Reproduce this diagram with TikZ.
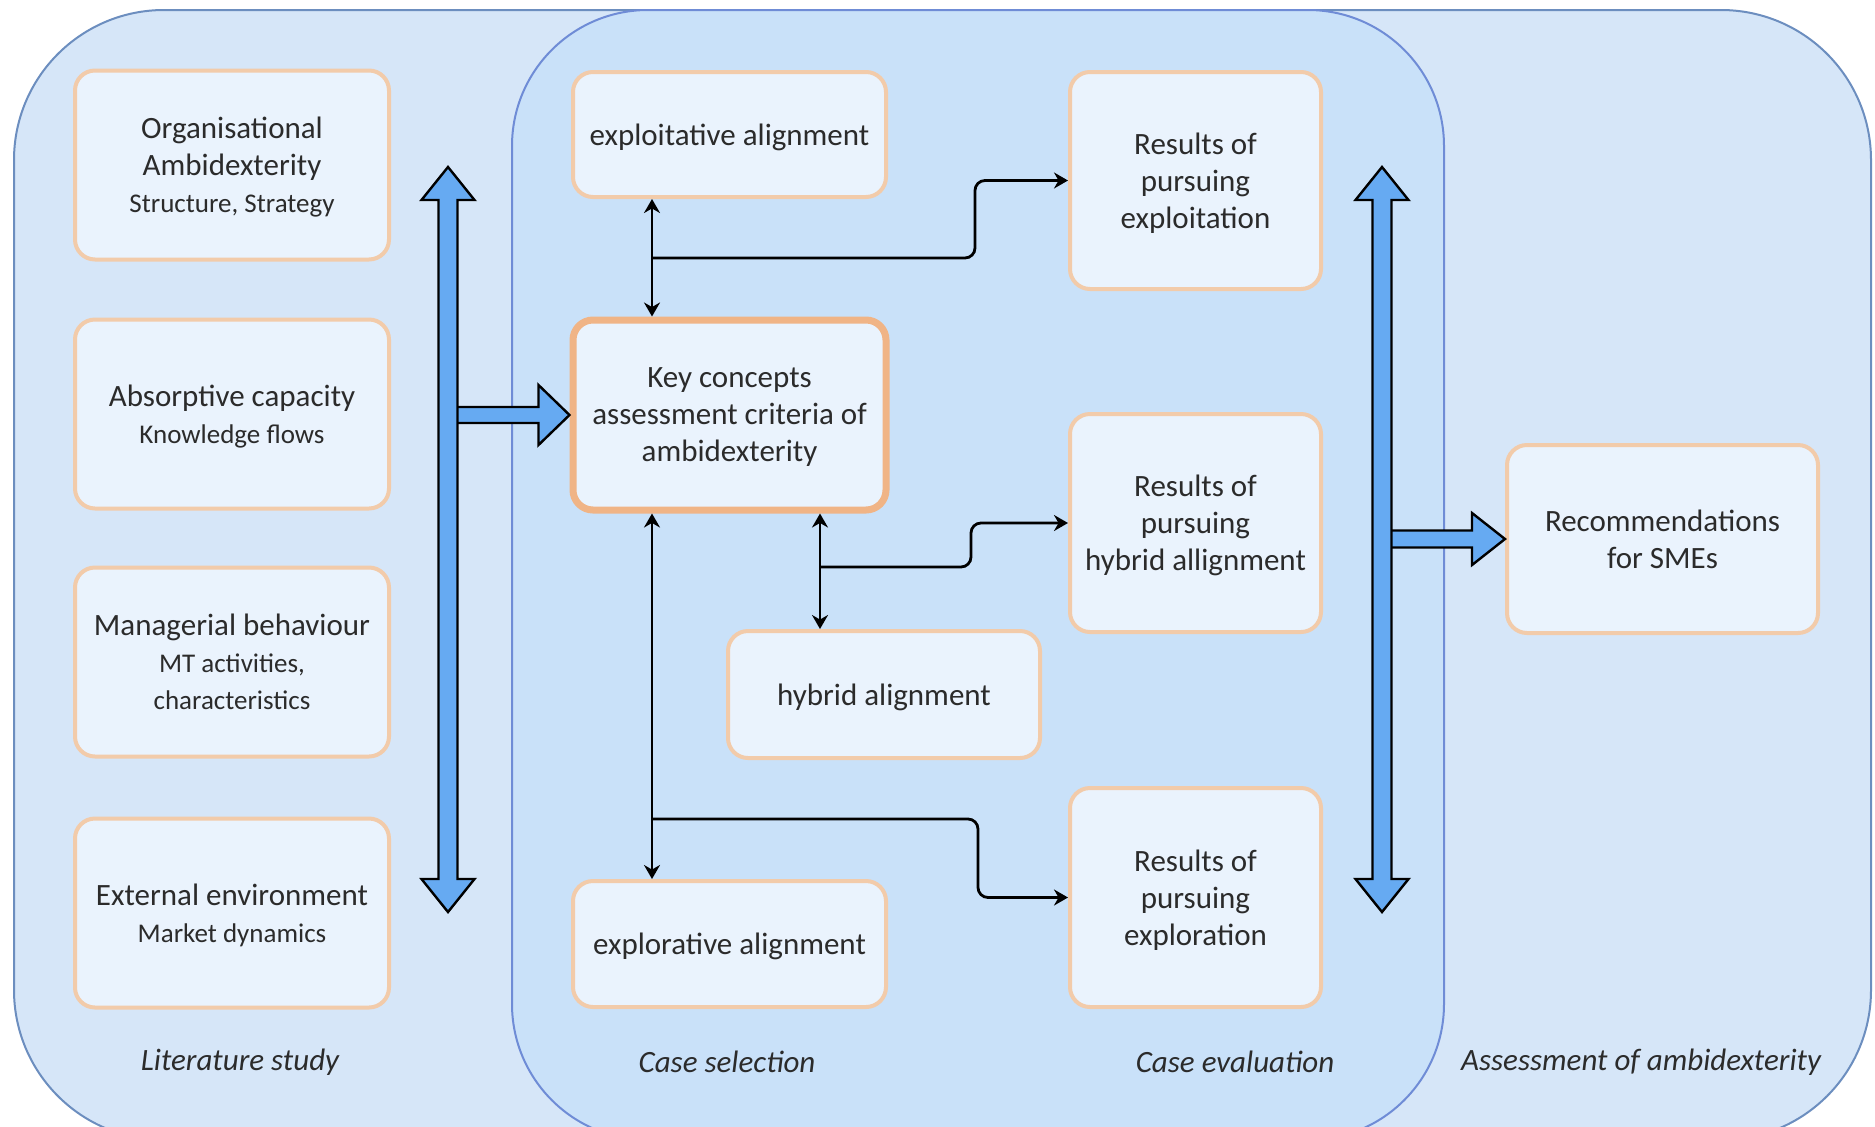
\documentclass[tikz,border=0pt]{standalone}
\usepackage{fontspec}
\setmainfont{Carlito}
\usetikzlibrary{calc,positioning,arrows.meta}

\definecolor{outerfill}{HTML}{D6E6F8}
\definecolor{outerline}{HTML}{6C8EBF}
\definecolor{innerfill}{HTML}{C9E1F9}
\definecolor{innerline}{HTML}{6F8CD6}
\definecolor{boxfill}{HTML}{EAF3FD}
\definecolor{boxline}{HTML}{F2CBAA}
\definecolor{keyline}{HTML}{F0B486}
\definecolor{fatblue}{HTML}{66AAF2}
\definecolor{textgrey}{HTML}{2B2B2B}

\tikzset{
  box/.style 2 args={rectangle, rounded corners=10pt, draw=boxline, line width=2pt,
    fill=boxfill, align=center, text=textgrey, inner sep=2pt, text depth=-2pt,
    minimum width=#1, minimum height=#2, font=\fontsize{15.5}{18.5}\selectfont},
  phase/.style={font=\itshape\fontsize{15.5}{18.5}\selectfont, text=textgrey},
  link/.style={line width=1.4pt, rounded corners=5pt, >={Stealth[length=7pt,width=8pt]}},
  fatarrow/.style={fill=fatblue, draw=black, line width=1.2pt, line join=miter},
}
\newcommand{\minor}[1]{{\fontsize{13.5}{18.5}\selectfont #1}}

\begin{document}
\begin{tikzpicture}[x=0.5pt,y=-0.5pt]
  \useasboundingbox (0,0) rectangle (1875,1126);
  \clip (0,0) rectangle (1875,1126);

  % phases
  \draw[fill=outerfill, draw=outerline, line width=1pt, rounded corners=75pt] (14,10) rectangle (1871,1140);
  \draw[fill=innerfill, draw=innerline, line width=1pt, rounded corners=68pt] (512,10) rectangle (1444,1140);

  % literature study
  \node[box={157pt}{94.5pt}] (orgamb) at (232,165) {Organisational\\Ambidexterity\\\minor{Structure, Strategy}};
  \node[box={157pt}{94.5pt}] (abscap) at (232,414) {Absorptive capacity\\\minor{Knowledge flows}};
  \node[box={157pt}{94.5pt}, text depth=-5pt] (manbeh) at (232,662) {Managerial behaviour\\\minor{MT activities,}\\\minor{characteristics}};
  \node[box={157pt}{94.5pt}] (extenv) at (232,913) {External environment\\\minor{Market dynamics}};

  % case selection
  \node[box={156.5pt}{62.5pt}] (exploit) at (729.5,134.5) {exploitative alignment};
  \node[box={156.5pt}{95pt}, draw=keyline, line width=3.5pt] (keycon) at (729.5,415) {Key concepts\\assessment criteria of\\ambidexterity};
  \node[box={156pt}{63.5pt}] (hybrid) at (884,694.5) {hybrid alignment};
  \node[box={156.5pt}{63pt}] (explore) at (729.5,944) {explorative alignment};

  % case evaluation
  \node[box={125.5pt}{108.5pt}] (resexploit) at (1195.5,180.5) {Results of\\pursuing\\exploitation};
  \node[box={125.5pt}{109pt}] (reshybrid) at (1195.5,523) {Results of\\pursuing\\hybrid allignment};
  \node[box={125.5pt}{109.5pt}] (resexplore) at (1195.5,897.5) {Results of\\pursuing\\exploration};

  % assessment
  \node[box={155.5pt}{94pt}, text depth=-5pt] (recsme) at (1662.5,539) {Recommendations\\for SMEs};

  \node[phase] (litlabel) at (240,1062) {Literature study};
  \node[phase] (sellabel) at (727,1062) {Case selection};
  \node[phase] (evallabel) at (1235,1062) {Case evaluation};
  \node[phase] (asslabel) at (1641,1062) {Assessment of ambidexterity};

  % thin connectors
  \coordinate (lineA) at (652,0);
  \coordinate (lineB) at (820,0);
  \coordinate (forkA) at (652,258);
  \coordinate (forkB) at (820,567);
  \coordinate (forkC) at (652,819);
  \draw[link,<->] (exploit.south -| lineA) -- (keycon.north -| lineA);
  \draw[link,<->] (keycon.south -| lineA) -- (explore.north -| lineA);
  \draw[link,<->] (keycon.south -| lineB) -- (hybrid.north -| lineB);
  \draw[link,->] (forkA) -- (975,258) |- (resexploit.west);
  \draw[link,->] (forkB) -- (971,567) |- (reshybrid.west);
  \draw[link,->] (forkC) -- (978,819) |- (resexplore.west);

  % block arrows
  \draw[fatarrow] (keycon.west) -- ++(-31,-30) -- ++(0,22) -- ++(-94,0) -- ++(0,16) -- ++(94,0) -- ++(0,22) -- cycle;
  \draw[fatarrow] (recsme.west) -- ++(-33,-26) -- ++(0,17.5) -- ++(-92,0) -- ++(0,17) -- ++(92,0) -- ++(0,17.5) -- cycle;
  \foreach \cx in {448,1382}
    \draw[fatarrow] (\cx,167) -- ++(26.5,33) -- ++(-17,0) -- ++(0,679) -- ++(17,0) -- ++(-26.5,33)
      -- ++(-26.5,-33) -- ++(17,0) -- ++(0,-679) -- ++(-17,0) -- cycle;
\end{tikzpicture}
\end{document}
